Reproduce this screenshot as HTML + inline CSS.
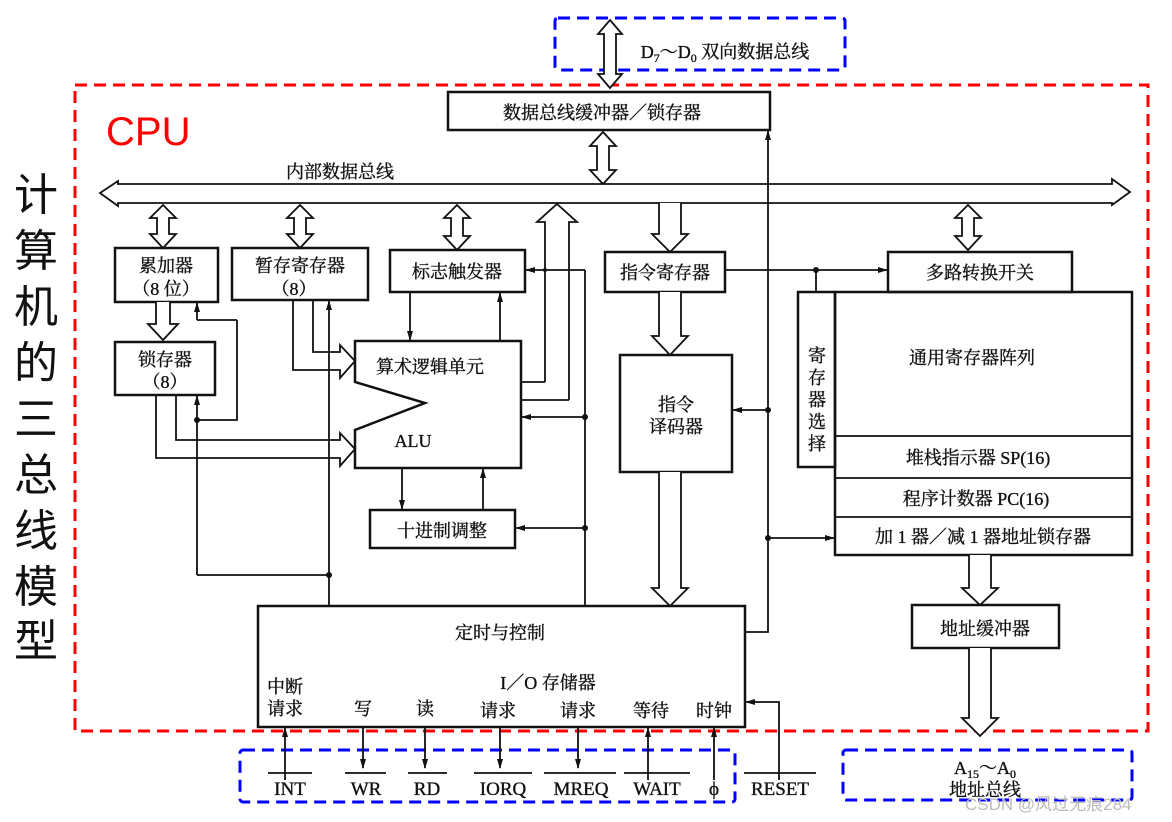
<!DOCTYPE html>
<html><head><meta charset="utf-8"><style>
html,body{margin:0;padding:0;background:#fff}
svg{display:block}
text{font-family:"Liberation Serif","Noto Serif CJK SC","Noto Sans CJK SC",serif;fill:#111}
.t text{stroke:#111;stroke-width:0.35}
</style></head><body>
<svg width="1172" height="822" viewBox="0 0 1172 822" xmlns="http://www.w3.org/2000/svg">
<defs>
<marker id="a" markerWidth="10" markerHeight="8" refX="9" refY="4" orient="auto" markerUnits="userSpaceOnUse"><path d="M0,1 L10,4 L0,7 Z" fill="#111"/></marker>
</defs>
<rect x="0" y="0" width="1172" height="822" fill="#fff"/>
<g font-size="44">
<text x="14" y="210" style="font-family:'Noto Sans CJK SC',sans-serif">计</text>
<text x="14" y="266" style="font-family:'Noto Sans CJK SC',sans-serif">算</text>
<text x="14" y="322" style="font-family:'Noto Sans CJK SC',sans-serif">机</text>
<text x="14" y="378" style="font-family:'Noto Sans CJK SC',sans-serif">的</text>
<text x="14" y="434" style="font-family:'Noto Sans CJK SC',sans-serif">三</text>
<text x="14" y="490" style="font-family:'Noto Sans CJK SC',sans-serif">总</text>
<text x="14" y="546" style="font-family:'Noto Sans CJK SC',sans-serif">线</text>
<text x="14" y="602" style="font-family:'Noto Sans CJK SC',sans-serif">模</text>
<text x="14" y="656" style="font-family:'Noto Sans CJK SC',sans-serif">型</text>
</g>
<rect x="75" y="85" width="1073" height="646" fill="none" stroke="#f00" stroke-width="3" stroke-dasharray="12,7"/>
<text x="106" y="145" font-size="40" style="font-family:'Liberation Sans',sans-serif;fill:#f00">CPU</text>
<rect x="555" y="18" width="290" height="52" rx="3" fill="none" stroke="#00f" stroke-width="3" stroke-dasharray="12,7"/>
<rect x="240" y="750" width="495" height="52" rx="3" fill="none" stroke="#00f" stroke-width="3" stroke-dasharray="12,7"/>
<rect x="843" y="750" width="289" height="50" rx="3" fill="none" stroke="#00f" stroke-width="3" stroke-dasharray="12,7"/>

<g fill="none" stroke="#111" stroke-width="1.8">
<path d="M610,20 L622,34 L616,34 L616,74 L622,74 L610,88 L598,74 L604,74 L604,34 L598,34 Z" fill="#fff"/>
<rect x="448" y="92" width="322" height="38" stroke-width="2.5"/>
<path d="M603,132 L616,146 L609,146 L609,170 L616,170 L603,184 L590,170 L597,170 L597,146 L590,146 Z" fill="#fff"/>
<path d="M100,193 L118,181 L118,184 L1112,184 L1112,179 L1130,192 L1112,205 L1112,203 L118,203 L118,206 Z" fill="#fff"/>
<path d="M163,205 L176,218 L169,218 L169,234 L176,234 L163,248 L150,234 L157,234 L157,218 L150,218 Z" fill="#fff"/>
<path d="M300,205 L313,218 L306,218 L306,234 L313,234 L300,248 L287,234 L294,234 L294,218 L287,218 Z" fill="#fff"/>
<path d="M457,205 L470,218 L463,218 L463,236 L470,236 L457,250 L444,236 L451,236 L451,218 L444,218 Z" fill="#fff"/>
<path d="M968,205 L981,218 L974,218 L974,236 L981,236 L968,250 L955,236 L962,236 L962,218 L955,218 Z" fill="#fff"/>
<path d="M659,203 L659,234 L652,234 L670,252 L688,234 L681,234 L681,203" fill="#fff"/>
<path d="M545,382 L545,222 L537,222 L557,204 L577,222 L569,222 L569,400" fill="none"/>
<line x1="520" y1="382" x2="545" y2="382"/><line x1="520" y1="400" x2="569" y2="400"/>

<rect x="115" y="248" width="103" height="54" stroke-width="2.5"/>
<rect x="115" y="342" width="100" height="53" stroke-width="2.5"/>
<rect x="232" y="248" width="136" height="52" stroke-width="2.5"/>
<rect x="390" y="250" width="135" height="42" stroke-width="2.5"/>
<path d="M355,341 L521,341 L521,468 L355,468 L355,430 L425,403 L355,382 Z" stroke-width="2.5"/>
<rect x="370" y="510" width="145" height="38" stroke-width="2.5"/>
<rect x="605" y="252" width="120" height="40" stroke-width="2.5"/>
<rect x="620" y="355" width="112" height="117" stroke-width="2.5"/>
<rect x="888" y="252" width="184" height="40" stroke-width="2.5"/>
<rect x="798" y="292" width="37" height="175" stroke-width="2.5"/>
<rect x="835" y="292" width="297" height="263" stroke-width="2.5"/>
<line x1="835" y1="436" x2="1132" y2="436"/>
<line x1="835" y1="478" x2="1132" y2="478"/>
<line x1="835" y1="517" x2="1132" y2="517"/>
<rect x="912" y="605" width="147" height="43" stroke-width="2.5"/>
<rect x="258" y="606" width="487" height="121" stroke-width="2.5"/>

<path d="M156,302 L156,324 L148,324 L163,340 L178,324 L170,324 L170,302" fill="#fff"/>
<path d="M659,292 L659,336 L652,336 L670,355 L688,336 L681,336 L681,292" fill="#fff"/>
<path d="M659,472 L659,588 L652,588 L670,606 L688,588 L681,588 L681,472" fill="#fff"/>
<path d="M969,555 L969,588 L962,588 L980,605 L998,588 L991,588 L991,555" fill="#fff"/>
<path d="M969,648 L969,718 L962,718 L980,736 L998,718 L991,718 L991,648" fill="#fff"/>

<path d="M293,300 L293,370 L340,370 L340,378 L355,361 L340,345 L340,352 L313,352 L313,300"/>
<path d="M156,395 L156,458 L340,458 L340,466 L355,449 L340,433 L340,440 L176,440 L176,395"/>
<path d="M237,320 L237,420 L197,420"/>
<line x1="197" y1="320" x2="237" y2="320"/>
<line x1="197" y1="320" x2="197" y2="303" marker-end="url(#a)"/>
<line x1="197" y1="575" x2="197" y2="396" marker-end="url(#a)"/>
<line x1="197" y1="575" x2="329" y2="575"/>
<line x1="329" y1="606" x2="329" y2="301" marker-end="url(#a)"/>
<line x1="410" y1="292" x2="410" y2="340" marker-end="url(#a)"/>
<line x1="500" y1="341" x2="500" y2="293" marker-end="url(#a)"/>
<line x1="402" y1="468" x2="402" y2="509" marker-end="url(#a)"/>
<line x1="483" y1="510" x2="483" y2="469" marker-end="url(#a)"/>
<line x1="585" y1="606" x2="585" y2="270"/>
<line x1="585" y1="270" x2="526" y2="270" marker-end="url(#a)"/>
<line x1="585" y1="417" x2="522" y2="417" marker-end="url(#a)"/>
<line x1="585" y1="528" x2="516" y2="528" marker-end="url(#a)"/>
<line x1="725" y1="270" x2="887" y2="270" marker-end="url(#a)"/>
<line x1="816" y1="270" x2="816" y2="292"/>
<path d="M745,632 L768,632 L768,140"/>
<line x1="768" y1="140" x2="768" y2="131" marker-end="url(#a)"/>
<line x1="768" y1="410" x2="733" y2="410" marker-end="url(#a)"/>
<line x1="768" y1="538" x2="834" y2="538" marker-end="url(#a)"/>

<line x1="285" y1="780" x2="285" y2="728" marker-end="url(#a)"/>
<line x1="363" y1="727" x2="363" y2="768" marker-end="url(#a)"/>
<line x1="425" y1="727" x2="425" y2="768" marker-end="url(#a)"/>
<line x1="500" y1="727" x2="500" y2="768" marker-end="url(#a)"/>
<line x1="578" y1="727" x2="578" y2="768" marker-end="url(#a)"/>
<line x1="648" y1="780" x2="648" y2="728" marker-end="url(#a)"/>
<line x1="714" y1="780" x2="714" y2="728" marker-end="url(#a)"/>
<path d="M779,780 L779,702 L760,702"/>
<line x1="760" y1="702" x2="746" y2="702" marker-end="url(#a)"/>
<line x1="268" y1="773" x2="312" y2="773"/>
<line x1="345" y1="773" x2="386" y2="773"/>
<line x1="408" y1="773" x2="447" y2="773"/>
<line x1="474" y1="773" x2="532" y2="773"/>
<line x1="544" y1="773" x2="616" y2="773"/>
<line x1="624" y1="773" x2="690" y2="773"/>
<line x1="744" y1="773" x2="816" y2="773"/>
</g>
<g fill="#111">
<circle cx="197" cy="420" r="3"/><circle cx="329" cy="575" r="3"/>
<circle cx="585" cy="417" r="3"/><circle cx="585" cy="528" r="3"/>
<circle cx="816" cy="270" r="3"/><circle cx="768" cy="410" r="3"/><circle cx="768" cy="538" r="3"/>
<circle cx="545" cy="270" r="2"/>
</g>

<g class="t" font-size="18" text-anchor="middle">
<text x="725" y="58">D<tspan font-size="12" dy="4">7</tspan><tspan dy="-4">～D</tspan><tspan font-size="12" dy="4">0</tspan><tspan dy="-4"> 双向数据总线</tspan></text>
<text x="602" y="119">数据总线缓冲器／锁存器</text>
<text x="340" y="178">内部数据总线</text>
<text x="166" y="272">累加器</text>
<text x="166" y="295">（8 位）</text>
<text x="165" y="366">锁存器</text>
<text x="165" y="388">（8）</text>
<text x="300" y="272">暂存寄存器</text>
<text x="294" y="295">（8）</text>
<text x="457" y="278">标志触发器</text>
<text x="430" y="373">算术逻辑单元</text>
<text x="413" y="447">ALU</text>
<text x="442" y="537">十进制调整</text>
<text x="665" y="279">指令寄存器</text>
<text x="676" y="411">指令</text>
<text x="676" y="433">译码器</text>
<text x="980" y="279">多路转换开关</text>
<text x="972" y="364">通用寄存器阵列</text>
<text x="978" y="464">堆栈指示器 SP(16)</text>
<text x="976" y="505">程序计数器 PC(16)</text>
<text x="983" y="543">加 1 器／减 1 器地址锁存器</text>
<text x="985" y="635">地址缓冲器</text>
<text x="500" y="639">定时与控制</text>
<text x="548" y="689">I／O 存储器</text>
<text x="285" y="693">中断</text>
<text x="285" y="715">请求</text>
<text x="363" y="715">写</text>
<text x="425" y="715">读</text>
<text x="498" y="717">请求</text>
<text x="578" y="717">请求</text>
<text x="651" y="717">等待</text>
<text x="714" y="717">时钟</text>
</g>
<g class="t" font-size="19" text-anchor="middle">
<text x="290" y="795">INT</text>
<text x="366" y="795">WR</text>
<text x="427" y="795">RD</text>
<text x="503" y="795">IORQ</text>
<text x="581" y="795">MREQ</text>
<text x="657" y="795">WAIT</text>
<text x="714" y="795">ϕ</text>
<text x="780" y="795">RESET</text>
</g>
<g class="t" font-size="18" text-anchor="middle">
<text x="985" y="774">A<tspan font-size="12" dy="4">15</tspan><tspan dy="-4">～A</tspan><tspan font-size="12" dy="4">0</tspan></text>
<text x="985" y="796">地址总线</text>
<text x="817" y="362">寄</text><text x="817" y="384">存</text><text x="817" y="406">器</text><text x="817" y="428">选</text><text x="817" y="450">择</text>
</g>
<text x="965" y="810" font-size="17" style="font-family:'Liberation Sans','Noto Sans CJK SC',sans-serif;fill:#bbb">CSDN @风过无痕284</text>
</svg>
</body></html>
